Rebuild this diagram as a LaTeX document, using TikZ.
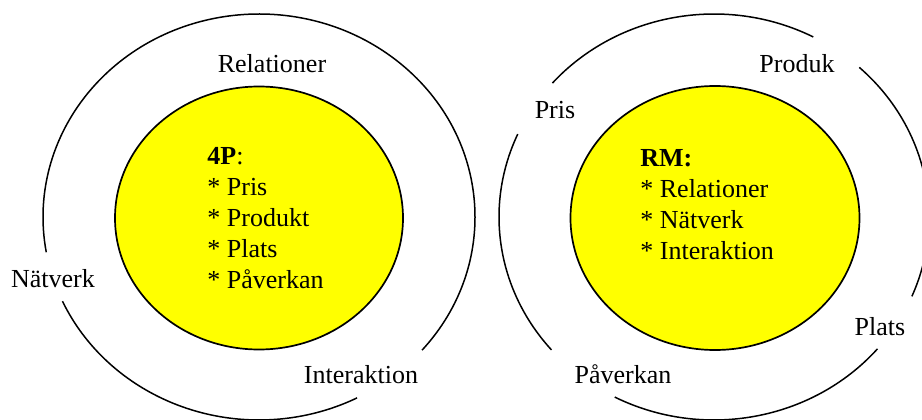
\documentclass[tikz,border=0pt]{standalone}
\usepackage{fontspec}
\setmainfont{Liberation Serif}
\usetikzlibrary{positioning}
\definecolor{kernyellow}{RGB}{255,255,0}

\tikzset{
  ring/.style={line width=0.75pt},
  kernel/.style={draw, fill=kernyellow, line width=0.85pt},
  lbl/.style={font=\fontsize{13}{15.5}\selectfont, inner sep=0pt, anchor=base},
  list/.style={lbl, align=left, anchor=base west}
}

\begin{document}
\begin{tikzpicture}[x=0.5pt,y=0.5pt]
        \useasboundingbox (0,0) rectangle (922,419);

        % 4P side
        \draw[kernel] (259,201) ellipse [x radius=144, y radius=131.5];
        \draw[ring] (259,202) ++(319:216 and 203) arc[start angle=319, end angle=550, x radius=216, y radius=203];
        \draw[ring] (259,202) ++(204.5:216 and 203) arc[start angle=204.5, end angle=297, x radius=216, y radius=203];
        % base of a list node = last line
        \node[list] (fyrap) at (207,131) {\textbf{4P}:\\* Pris\\* Produkt\\* Plats\\* Påverkan};
        \node[lbl] (relationer) at (272,347) {Relationer};
        \node[lbl] (natverk) at (53,132) {Nätverk};
        \node[lbl] (interaktion) at (361,36) {Interaktion};

        % RM side
        \draw[kernel] (715,201) ellipse [x radius=144.5, y radius=132];
        \draw[ring] (714,202) ++(62.5:215 and 203) arc[start angle=62.5, end angle=138.7, x radius=215, y radius=203];
        \draw[ring] (714,202) ++(155.9:215 and 203) arc[start angle=155.9, end angle=220.9, x radius=215, y radius=203];
        \draw[ring] (714,202) ++(242.5:215 and 203) arc[start angle=242.5, end angle=319.5, x radius=215, y radius=203];
        \draw[ring] (714,202) ++(337:215 and 203) arc[start angle=337, end angle=407.5, x radius=215, y radius=203];
        \node[list] (rm) at (640,160) {\textbf{RM:}\\* Relationer\\* Nätverk\\* Interaktion};
        \node[lbl] (pris) at (555,300) {Pris};
        \node[lbl] (produk) at (797,347) {Produk};
        \node[lbl] (plats) at (880,84) {Plats};
        \node[lbl] (paverkan) at (623,36) {Påverkan};
    \end{tikzpicture}
\end{document}
